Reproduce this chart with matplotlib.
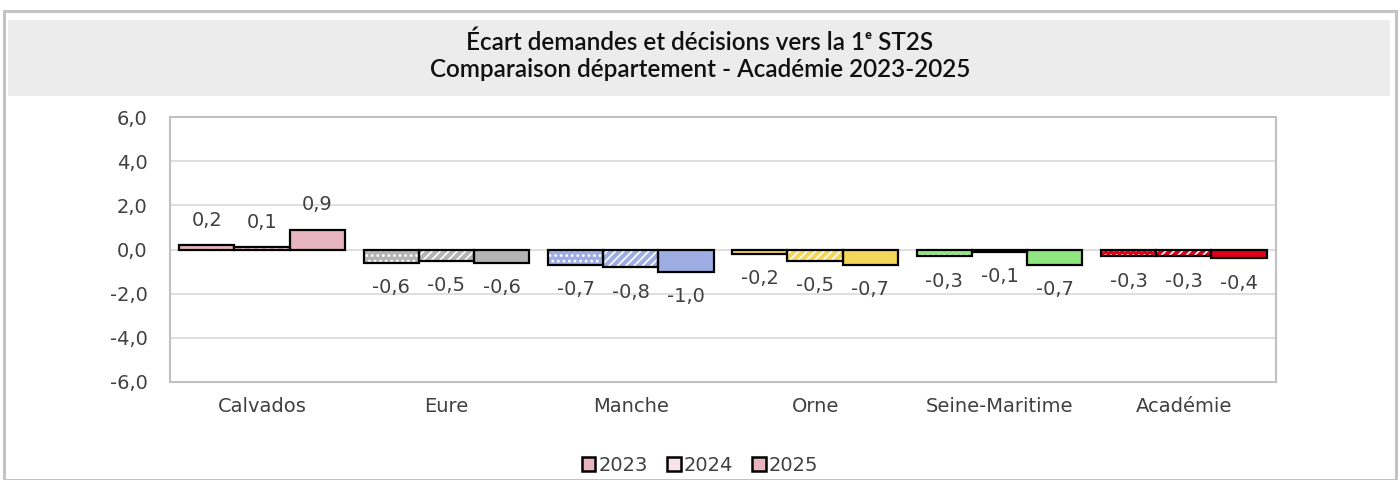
import numpy as np
import matplotlib.pyplot as plt
from matplotlib.patches import Rectangle, Patch

plt.rcParams['font.family'] = ['DejaVu Sans']
plt.rcParams['hatch.linewidth'] = 1.2

# Écart demandes / décisions par département et par année
departements = ['Calvados', 'Eure', 'Manche', 'Orne', 'Seine-Maritime', 'Académie']
annees = ['2023', '2024', '2025']
ecart_2023 = [0.2, -0.6, -0.7, -0.2, -0.3, -0.3]
ecart_2024 = [0.1, -0.5, -0.8, -0.5, -0.1, -0.3]
ecart_2025 = [0.9, -0.6, -1.0, -0.7, -0.7, -0.4]
couleurs = ['#e8b4c0', '#b4b4b4', '#9eaee4', '#f4d65a', '#90e680', '#e0001a']

series = [ecart_2023, ecart_2024, ecart_2025]
motifs = ['...', '////', None]
txt = '#404040'

fig = plt.figure(figsize=(14, 4.8), dpi=100)

# cadre extérieur et bandeau de titre
fig.patches.append(Rectangle((0.003, 0.0), 0.994, 0.978, transform=fig.transFigure,
                             fill=False, edgecolor='#c4c4c4', linewidth=2.2))
fig.patches.append(Rectangle((0.006, 0.8), 0.987, 0.158, transform=fig.transFigure,
                             facecolor='#ececec', edgecolor='none'))
fig.text(0.5, 0.912, 'Écart demandes et décisions vers la 1ᵉ ST2S',
         ha='center', va='center', fontsize=17.5, fontweight='semibold',
         color='#111111', family=['Lato', 'DejaVu Sans'])
fig.text(0.5, 0.855, 'Comparaison département - Académie 2023-2025',
         ha='center', va='center', fontsize=17.5, fontweight='semibold',
         color='#111111', family=['Lato', 'DejaVu Sans'])

ax = fig.add_axes([0.1214, 0.2042, 0.79, 0.552])
x = np.arange(len(departements))
largeur = 0.3

for i, vals in enumerate(series):
    pos = x + (i - 1) * largeur
    # remplissage + motif blanc, puis contour noir par-dessus
    ax.bar(pos, vals, largeur, color=couleurs, edgecolor='white', linewidth=0,
           hatch=motifs[i], zorder=3)
    ax.bar(pos, vals, largeur, facecolor='none', edgecolor='black', linewidth=1.6, zorder=4)
    for xp, v in zip(pos, vals):
        dy = 18 if v >= 0 else -18
        ax.annotate(f'{v:.1f}'.replace('.', ','), (xp, v), xytext=(0, dy),
                    textcoords='offset points', ha='center', va='center',
                    fontsize=14, color=txt, zorder=5)

ax.set_xlim(-0.5, len(departements) - 0.5)
ax.set_ylim(-6, 6)
ax.set_yticks(np.arange(-6, 7, 2))
ax.set_yticklabels([f'{t:.1f}'.replace('.', ',') for t in np.arange(-6, 7, 2)])
ax.set_xticks(x)
ax.set_xticklabels(departements)
ax.tick_params(axis='both', length=0, labelsize=14, labelcolor=txt)
ax.tick_params(axis='y', pad=16)
ax.tick_params(axis='x', pad=11)
ax.grid(axis='y', color='#d9d9d9', linewidth=1.2, zorder=0)
for s in ax.spines.values():
    s.set_color('#c0c0c0')
    s.set_linewidth(1.5)

handles = [Patch(facecolor=couleurs[0], edgecolor='black', linewidth=1.8),
           Patch(facecolor='#f6e4e8', edgecolor='black', linewidth=1.8),
           Patch(facecolor=couleurs[0], edgecolor='black', linewidth=1.8)]
fig.legend(handles, annees, loc='center', bbox_to_anchor=(0.5, 0.031), ncol=3,
           frameon=False, fontsize=14, handlelength=0.7, handleheight=0.7,
           handletextpad=0.15, columnspacing=1.0, labelcolor=txt)

fig.savefig('out.png', dpi=100)
